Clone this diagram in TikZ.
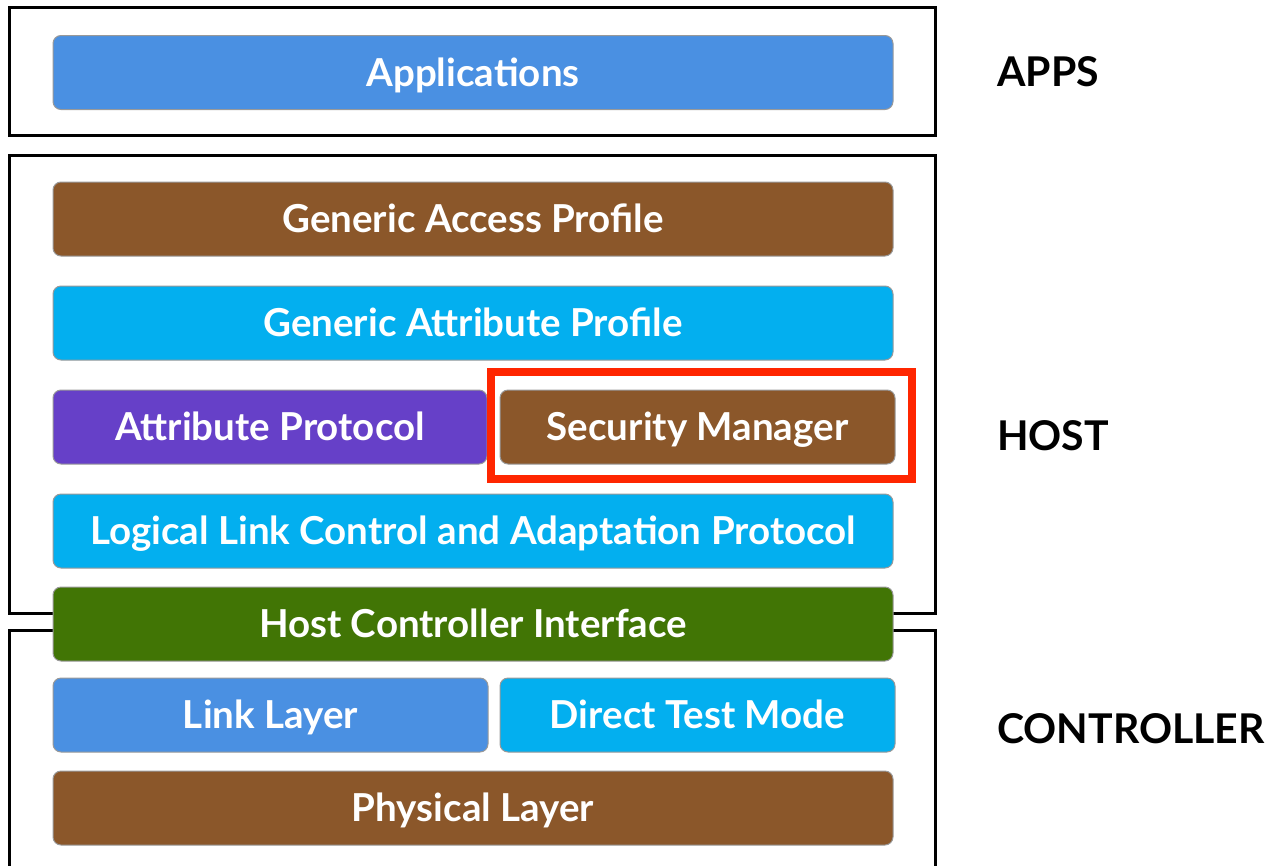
\documentclass[tikz,border=0pt]{standalone}
\usepackage{fontspec}
\setmainfont{Lato}
\usepackage{tikz}
\usetikzlibrary{positioning}
\definecolor{appblue}{RGB}{74,144,226}
\definecolor{brownish}{RGB}{139,87,42}
\definecolor{skyblue}{RGB}{3,175,239}
\definecolor{violet}{RGB}{102,64,200}
\definecolor{darkgreen}{RGB}{65,117,5}
\definecolor{hlred}{RGB}{255,38,0}
\tikzset{
  layer/.style={ draw=gray!80, line width=1pt, rounded corners=8pt, text=white,
    font=\fontsize{38.5}{44}\selectfont\bfseries, inner sep=0pt,
    text height=27.5pt, text depth=0pt,
    minimum height=74pt, minimum width=840pt }
}
\tikzset{
  halflayer/.style={ layer, minimum width=435pt }
}
\tikzset{
  frame/.style={ draw=black, line width=3pt }
}
\tikzset{
  tag/.style={ anchor=west, inner sep=0pt, text height=29pt, text depth=0pt,
    font=\fontsize{41}{48}\selectfont\bfseries }
}
\begin{document}
\begin{tikzpicture}[x=1pt, y=-1pt]
      \useasboundingbox (0,0) rectangle (1285,865);

      % frames round the three parts
      \draw[frame] (9.5,7.5) rectangle (935,135.5);
      \draw[frame] (9.5,155.5) rectangle (935,613);
      \draw[frame] (9.5,880) |- (935,630.5) -- (935,880);

      \node[layer, fill=appblue] (apps) at (473, 72.5) {Applications};

      \node[layer, fill=brownish] (gap) at (473, 219) {Generic Access Profile};
      \node[layer, fill=skyblue] (gatt) at (473, 323) {Generic Attribute Profile};
      \node[halflayer, fill=violet, minimum width=434pt] (att) at (270, 427) {Attribute Protocol};
      \node[halflayer, fill=brownish, minimum width=395pt] (sm) at (697.5, 427) {Security Manager};
      \node[layer, fill=skyblue] (l2cap) at (473, 531) {Logical Link Control and Adaptation Protocol};

      \node[layer, fill=darkgreen] (hci) at (473, 624) {Host Controller Interface};

      \node[halflayer, fill=appblue] (ll) at (270.5, 715) {Link Layer};
      \node[halflayer, fill=skyblue, minimum width=395pt] (dtm) at (697.5, 715) {Direct Test Mode};
      \node[layer, fill=brownish] (phy) at (473, 808) {Physical Layer};

      % highlight
      \draw[hlred, line width=8pt] ([xshift=-9pt, yshift=18pt]sm.north west) rectangle ([xshift=16pt, yshift=-14pt]sm.south east);

      \node[tag] (appstag) at (997, 72) {APPS};
      \node[tag] (hosttag) at (997, 436) {HOST};
      \node[tag] (ctrltag) at (997, 729) {CONTROLLER};
    \end{tikzpicture}
\end{document}
